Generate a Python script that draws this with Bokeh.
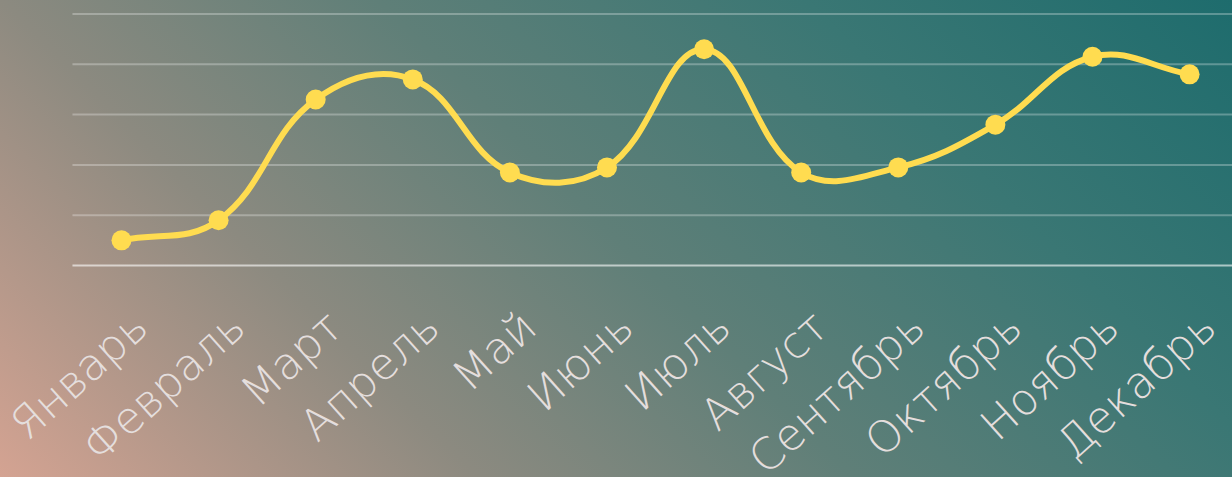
import math
from bokeh.plotting import figure
from bokeh.models import ColumnDataSource, LabelSet, Range1d
from bokeh.core.properties import value
from bokeh.embed import file_html
from bokeh.resources import INLINE

months = ["Январь", "Февраль", "Март", "Апрель", "Май", "Июнь",
          "Июль", "Август", "Сентябрь", "Октябрь", "Ноябрь", "Декабрь"]
values = [10, 18, 66, 74, 37, 39, 86, 37, 39, 56, 83, 76]
grid_ticks = [0, 20, 40, 60, 80, 100]

LINE = "#ffdc50"
LABEL = "#e4dedd"
TENSION = 0.4
PX_X = 97.1   # pixels per category (for spline geometry)
PX_Y = 2.515  # pixels per unit

X0, X1 = -1.246, 11.442
GRID_LEFT = -0.505

p = figure(width=1232, height=477, output_backend="svg", toolbar_location=None,
           x_range=Range1d(X0, X1), y_range=Range1d(-84.29, 105.37),
           min_border_left=0, min_border_right=0, min_border_top=0, min_border_bottom=0)
p.background_fill_alpha = 0
p.border_fill_alpha = 0
p.outline_line_color = None
p.xaxis.visible = False
p.yaxis.visible = False
p.xgrid.visible = False
p.ygrid.visible = False
p.styles = {"background-image": "linear-gradient(45deg, #d4a392 0%, #8c8a80 28%, #5f7f78 50%, #3a7774 75%, #1e6c6d 100%)"}

# horizontal grid lines (bottom one brighter, acting as the axis line)
n = len(grid_ticks)
p.segment(x0=[GRID_LEFT] * (n - 1), x1=[X1] * (n - 1), y0=grid_ticks[1:], y1=grid_ticks[1:],
          line_color="white", line_alpha=0.28, line_width=2)
p.segment(x0=[GRID_LEFT], x1=[X1], y0=grid_ticks[:1], y1=grid_ticks[:1],
          line_color="white", line_alpha=0.6, line_width=2)

# Chart.js-style cardinal spline control points
xs = list(range(len(values)))
P = [(x * PX_X, v * PX_Y) for x, v in zip(xs, values)]
cps = []
for i in range(len(P)):
    prev = P[i - 1] if i > 0 else P[i]
    cur = P[i]
    nxt = P[i + 1] if i < len(P) - 1 else P[i]
    d01 = math.hypot(cur[0] - prev[0], cur[1] - prev[1])
    d12 = math.hypot(nxt[0] - cur[0], nxt[1] - cur[1])
    tot = d01 + d12
    s01 = d01 / tot if tot else 0
    s12 = d12 / tot if tot else 0
    fa = TENSION * s01
    fb = TENSION * s12
    pcp = (cur[0] - fa * (nxt[0] - prev[0]), cur[1] - fa * (nxt[1] - prev[1]))
    ncp = (cur[0] + fb * (nxt[0] - prev[0]), cur[1] + fb * (nxt[1] - prev[1]))
    cps.append((pcp, ncp))

seg = dict(x0=[], y0=[], x1=[], y1=[], cx0=[], cy0=[], cx1=[], cy1=[])
for i in range(len(P) - 1):
    seg["x0"].append(xs[i]); seg["y0"].append(values[i])
    seg["x1"].append(xs[i + 1]); seg["y1"].append(values[i + 1])
    seg["cx0"].append(cps[i][1][0] / PX_X); seg["cy0"].append(cps[i][1][1] / PX_Y)
    seg["cx1"].append(cps[i + 1][0][0] / PX_X); seg["cy1"].append(cps[i + 1][0][1] / PX_Y)

p.bezier(x0="x0", y0="y0", x1="x1", y1="y1", cx0="cx0", cy0="cy0", cx1="cx1", cy1="cy1",
         source=ColumnDataSource(seg), line_color=LINE, line_width=6, line_cap="round")
p.scatter(xs, values, size=20, fill_color=LINE, line_color=LINE, line_width=0)

lab_src = ColumnDataSource(dict(x=xs, y=[grid_ticks[0]] * len(xs), text=months))
p.add_layout(LabelSet(x="x", y="y", text="text", source=lab_src,
                      angle=42, angle_units="deg", text_align="right", text_baseline="middle",
                      x_offset=19, y_offset=-54, text_color=LABEL,
                      text_font=value("'DejaVu Sans Light', 'Lato Light'"), text_font_size="44px"))

open("out.html", "w").write(file_html(p, INLINE))
